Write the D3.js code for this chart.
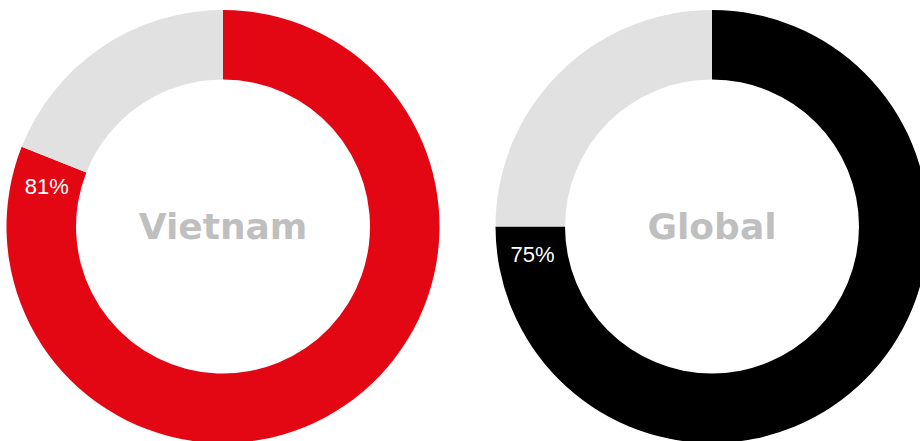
<!DOCTYPE html>
<html>
<head>
<meta charset="utf-8">
<script src="https://cdn.jsdelivr.net/npm/d3@7"></script>
<style>
  html, body { margin: 0; padding: 0; background: #fff; }
  svg { display: block; }
</style>
</head>
<body>
<svg id="chart" width="920" height="441"></svg>
<script>
  // values
  var regions = ['Vietnam', 'Global'];
  var shares = [81, 75];
  var fillColors = ['#e30613', '#000000'];
  var restColor = '#e1e1e1';

  var outerR = 216.5, innerR = 147;
  var centerY = 226.5;

  var svg = d3.select('#chart');

  var x = d3.scalePoint()
    .domain(regions)
    .range([223, 712]);

  var pie = d3.pie().sort(null).value(function(d) { return d; });
  var arc = d3.arc().innerRadius(innerR).outerRadius(outerR);

  regions.forEach(function(name, i) {
    var g = svg.append('g')
      .attr('transform', 'translate(' + x(name) + ',' + centerY + ')');

    var slices = pie([shares[i], 100 - shares[i]]);

    g.selectAll('path')
      .data(slices)
      .enter().append('path')
      .attr('d', arc)
      .attr('fill', function(d, j) { return j === 0 ? fillColors[i] : restColor; });

    // percentage label sits just before the end of the coloured arc
    var a = slices[0].endAngle - 0.143;
    var r = (innerR + outerR) / 2 - 0.5;
    g.append('text')
      .attr('x', r * Math.sin(a))
      .attr('y', -r * Math.cos(a) + 2)
      .attr('text-anchor', 'middle')
      .attr('dominant-baseline', 'central')
      .attr('fill', '#fff')
      .style('font-family', '"Liberation Sans", Arial, sans-serif')
      .style('font-size', '22px')
      .text(shares[i] + '%');

    g.append('text')
      .attr('x', 0)
      .attr('y', 0)
      .attr('text-anchor', 'middle')
      .attr('dominant-baseline', 'central')
      .attr('fill', '#bfbfbf')
      .style('font-family', '"DejaVu Sans", sans-serif')
      .style('font-weight', 'bold')
      .style('font-size', '36px')
      .text(name);
  });
</script>
</body>
</html>
